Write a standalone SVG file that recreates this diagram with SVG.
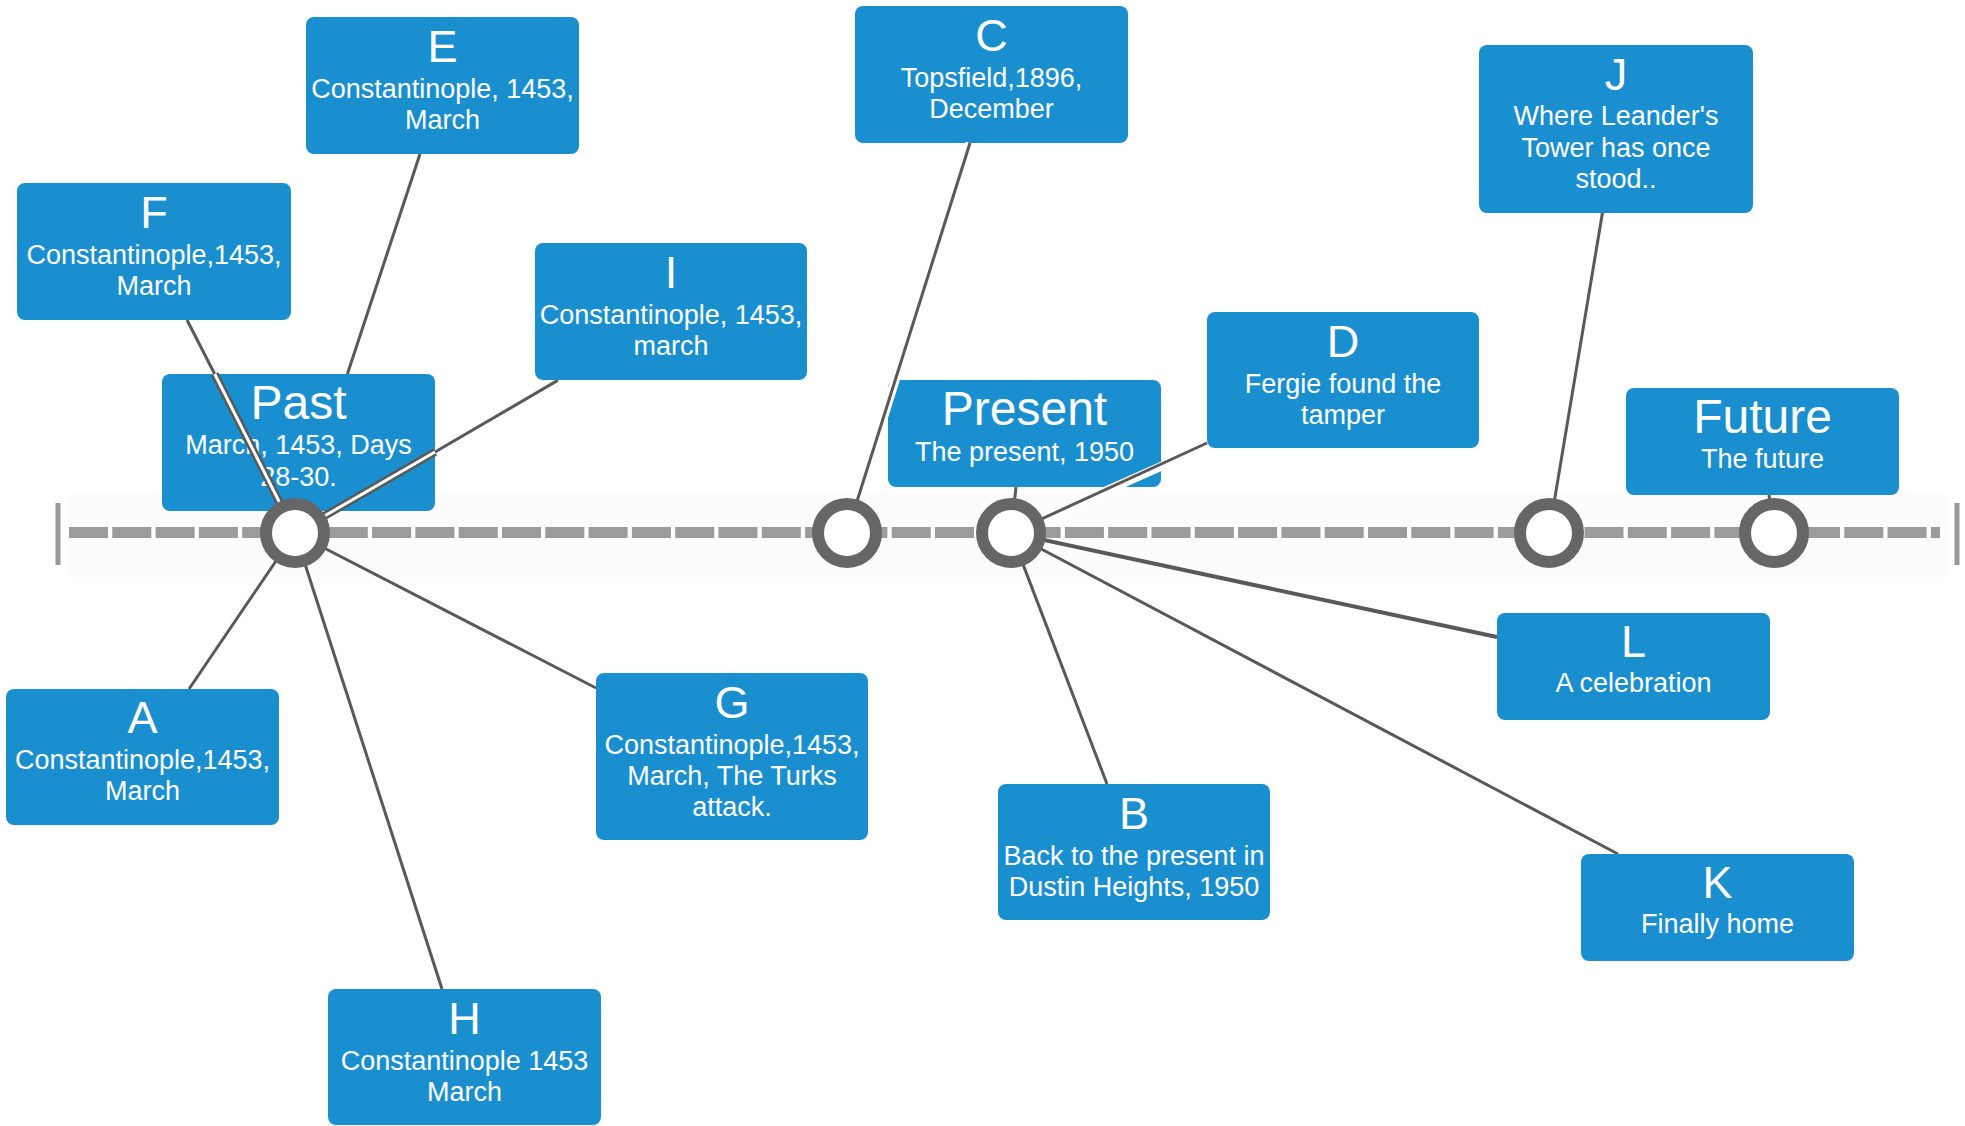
<svg xmlns="http://www.w3.org/2000/svg" width="1965" height="1126" viewBox="0 0 1965 1126">
<style>
.box{fill:#1a8fd0}
.t{font-family:"Liberation Sans",Arial,sans-serif;fill:#fff;text-anchor:middle}
.ttl{font-size:45px}
.big{font-size:48px}
.b{font-size:27px}
.ln{stroke:#595959;stroke-width:3;fill:none}
.halo{stroke:#fff;stroke-width:9;fill:none}
.dbl{stroke:#595959;stroke-width:8;fill:none}
.dblc{stroke:#fff;stroke-width:3;fill:none}
.ring{fill:#fff;stroke:#666;stroke-width:12}
</style>
<rect width="1965" height="1126" fill="#fff"/>
<g id="timeline">
<rect x="68" y="493" width="1880" height="84" fill="#fcfcfc"/>
<line x1="58" y1="503" x2="58" y2="565" stroke="#999" stroke-width="5"/>
<line x1="1957" y1="503" x2="1957" y2="565" stroke="#999" stroke-width="5"/>
<line x1="69" y1="532.5" x2="1940" y2="532.5" stroke="#9b9b9b" stroke-width="11" stroke-dasharray="39 4.3"/>
</g>
<g id="connectors-under">
<line class="ln" x1="420" y1="154" x2="347.4" y2="374"/>
<line class="ln" x1="187" y1="320" x2="214.7" y2="374"/>
<line class="ln" x1="557.7" y1="380.4" x2="435" y2="452"/>
<line class="ln" x1="189" y1="689" x2="295" y2="533"/>
<line class="ln" x1="442" y1="989" x2="295" y2="533"/>
<line class="ln" x1="596" y1="688" x2="295" y2="533"/>
<line class="ln" x1="1016" y1="487" x2="1011" y2="533"/>
<line class="ln" x1="1107" y1="784" x2="1011" y2="533"/>
<line class="ln" x1="1618" y1="854" x2="1011" y2="533"/>
<line class="ln" x1="1497" y1="637" x2="1011" y2="533" style="stroke-width:4"/>
<line class="ln" x1="1602.5" y1="212.5" x2="1549" y2="533"/>
<line class="ln" x1="1769" y1="495" x2="1774" y2="533"/>
</g>
<g id="node-E"><rect class="box" x="306" y="17" width="273" height="137" rx="8"/>
<text class="t ttl" x="442.5" y="62">E</text><text class="t b" x="442.5" y="98">Constantinople, 1453,</text><text class="t b" x="442.5" y="128.5">March</text></g>
<g id="node-F"><rect class="box" x="17" y="183" width="274" height="137" rx="8"/>
<text class="t ttl" x="154" y="228">F</text><text class="t b" x="154" y="264">Constantinople,1453,</text><text class="t b" x="154" y="294.5">March</text></g>
<g id="node-Past"><rect class="box" x="162" y="374" width="273" height="137" rx="8"/>
<text class="t big" x="298.5" y="418.5">Past</text><text class="t b" x="298.5" y="454">March, 1453, Days</text><text class="t b" x="298.5" y="485.5">28-30.</text></g>
<g id="node-I"><rect class="box" x="535" y="243" width="272" height="137" rx="8"/>
<text class="t ttl" x="671" y="288">I</text><text class="t b" x="671" y="324">Constantinople, 1453,</text><text class="t b" x="671" y="354.5">march</text></g>
<g id="node-C"><rect class="box" x="855" y="6" width="273" height="137" rx="8"/>
<text class="t ttl" x="991.5" y="51">C</text><text class="t b" x="991.5" y="87">Topsfield,1896,</text><text class="t b" x="991.5" y="117.5">December</text></g>
<g id="node-Present"><rect class="box" x="888" y="380" width="273" height="107" rx="8"/>
<text class="t big" x="1024.5" y="425">Present</text><text class="t b" x="1024.5" y="460.5">The present, 1950</text></g>
<g id="node-D"><rect class="box" x="1207" y="312" width="272" height="136" rx="8"/>
<text class="t ttl" x="1343" y="357">D</text><text class="t b" x="1343" y="393">Fergie found the</text><text class="t b" x="1343" y="423.5">tamper</text></g>
<g id="node-J"><rect class="box" x="1479" y="45" width="274" height="168" rx="8"/>
<text class="t ttl" x="1616" y="89.5">J</text><text class="t b" x="1616" y="125">Where Leander's</text><text class="t b" x="1616" y="156.5">Tower has once</text><text class="t b" x="1616" y="187.5">stood..</text></g>
<g id="node-Future"><rect class="box" x="1626" y="388" width="273" height="107" rx="8"/>
<text class="t big" x="1762.5" y="432.5">Future</text><text class="t b" x="1762.5" y="468">The future</text></g>
<g id="node-A"><rect class="box" x="6" y="689" width="273" height="136" rx="8"/>
<text class="t ttl" x="142.5" y="733">A</text><text class="t b" x="142.5" y="769">Constantinople,1453,</text><text class="t b" x="142.5" y="799.5">March</text></g>
<g id="node-G"><rect class="box" x="596" y="673" width="272" height="167" rx="8"/>
<text class="t ttl" x="732" y="718">G</text><text class="t b" x="732" y="754">Constantinople,1453,</text><text class="t b" x="732" y="785">March, The Turks</text><text class="t b" x="732" y="816">attack.</text></g>
<g id="node-H"><rect class="box" x="328" y="989" width="273" height="136" rx="8"/>
<text class="t ttl" x="464.5" y="1034">H</text><text class="t b" x="464.5" y="1070">Constantinople 1453</text><text class="t b" x="464.5" y="1100.5">March</text></g>
<g id="node-B"><rect class="box" x="998" y="784" width="272" height="136" rx="8"/>
<text class="t ttl" x="1134" y="829">B</text><text class="t b" x="1134" y="865">Back to the present in</text><text class="t b" x="1134" y="895.5">Dustin Heights, 1950</text></g>
<g id="node-L"><rect class="box" x="1497" y="613" width="273" height="107" rx="8"/>
<text class="t ttl" x="1633.5" y="657">L</text><text class="t b" x="1633.5" y="692">A celebration</text></g>
<g id="node-K"><rect class="box" x="1581" y="854" width="273" height="107" rx="8"/>
<text class="t ttl" x="1717.5" y="898">K</text><text class="t b" x="1717.5" y="933">Finally home</text></g>
<g id="connectors-over">
<line class="dbl" x1="214.7" y1="374" x2="295" y2="533"/>
<line class="dblc" x1="214.7" y1="374" x2="295" y2="533"/>
<line class="dbl" x1="435" y1="452" x2="295" y2="533"/>
<line class="dblc" x1="435" y1="452" x2="295" y2="533"/>
<line class="halo" x1="970" y1="143" x2="847" y2="533"/>
<line class="ln" x1="970" y1="143" x2="847" y2="533"/>
<line class="halo" x1="1207" y1="446" x2="1011" y2="533"/>
<line class="ln" x1="1207" y1="443" x2="1011" y2="533"/>
</g>
<g id="events">
<circle class="ring" cx="295" cy="533" r="29"/>
<circle class="ring" cx="847" cy="533" r="29"/>
<circle class="ring" cx="1011" cy="533" r="29"/>
<circle class="ring" cx="1549" cy="533" r="29"/>
<circle class="ring" cx="1774" cy="533" r="29"/>
</g>
</svg>
